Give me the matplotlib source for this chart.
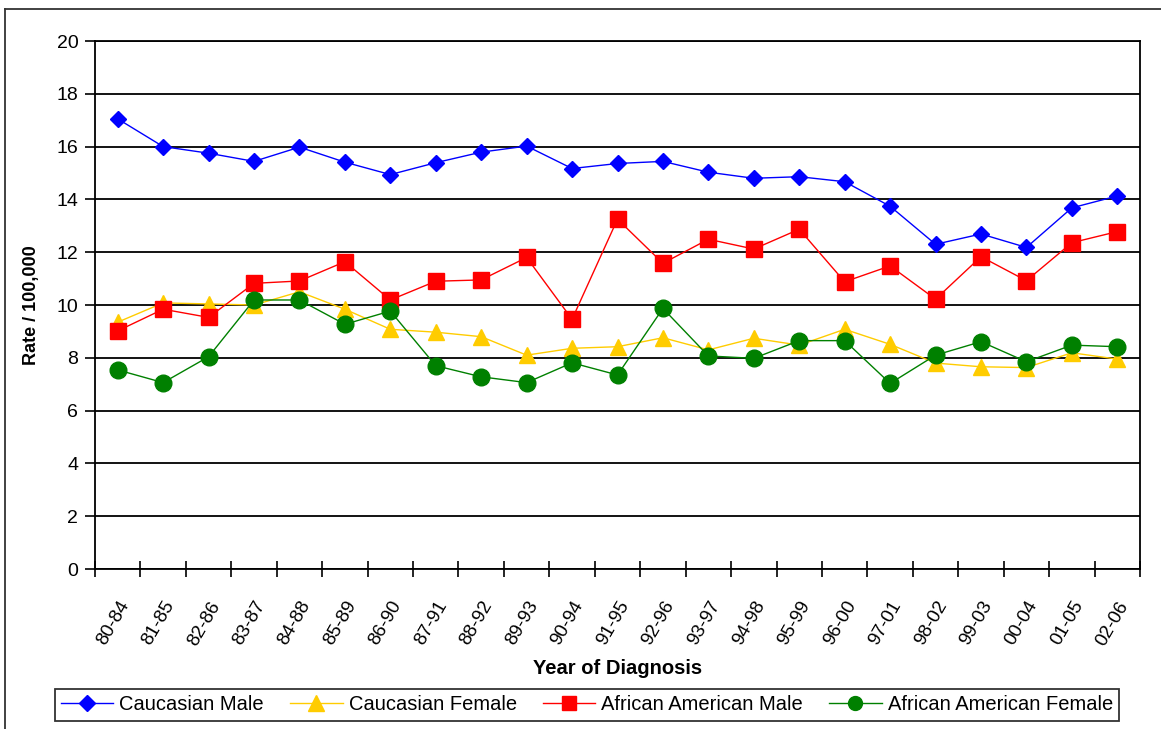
import matplotlib as mpl
mpl.use("Agg")
import matplotlib.pyplot as plt
from matplotlib.lines import Line2D

years = ["80-84", "81-85", "82-86", "83-87", "84-88", "85-89", "86-90", "87-91",
         "88-92", "89-93", "90-94", "91-95", "92-96", "93-97", "94-98", "95-99",
         "96-00", "97-01", "98-02", "99-03", "00-04", "01-05", "02-06"]

cauc_male = [17.05, 16.0, 15.75, 15.44, 15.98, 15.41, 14.94, 15.39, 15.79, 16.02,
             15.17, 15.36, 15.44, 15.03, 14.8, 14.86, 14.67, 13.74, 12.3, 12.69,
             12.18, 13.68, 14.13]
cauc_female = [9.35, 10.08, 10.04, 10.0, 10.5, 9.84, 9.08, 8.97, 8.8, 8.1,
               8.36, 8.42, 8.76, 8.3, 8.74, 8.48, 9.08, 8.51, 7.8, 7.66,
               7.63, 8.19, 7.95]
afam_male = [9.02, 9.84, 9.53, 10.82, 10.91, 11.64, 10.19, 10.9, 10.95, 11.8,
             9.46, 13.25, 11.58, 12.49, 12.12, 12.87, 10.88, 11.48, 10.22, 11.83,
             10.92, 12.36, 12.78]
afam_female = [7.54, 7.06, 8.04, 10.19, 10.19, 9.27, 9.77, 7.7, 7.28, 7.06,
               7.81, 7.35, 9.87, 8.07, 7.98, 8.65, 8.65, 7.03, 8.1, 8.61,
               7.85, 8.48, 8.42]

plt.rcParams["font.family"] = ["Liberation Sans", "DejaVu Sans"]

fig = plt.figure(figsize=(11.61, 7.29), dpi=100)
ax = fig.add_axes([95 / 1161, 1 - 569 / 729, 1045 / 1161, 528 / 729])

x = list(range(len(years)))
ax.plot(x, cauc_male, color="#0000ff", lw=1.0, marker="D", markersize=8,
        label="Caucasian Male")
ax.plot(x, cauc_female, color="#ffcc00", lw=1.0, marker="^", markersize=12,
        label="Caucasian Female")
ax.plot(x, afam_male, color="#ff0000", lw=1.0, marker="s", markersize=11.5,
        label="African American Male")
ax.plot(x, afam_female, color="#008000", lw=1.0, marker="o", markersize=12,
        label="African American Female")

ax.set_xlim(-0.5, len(years) - 0.5)
ax.set_ylim(0, 20)
ax.set_yticks(range(0, 21, 2))
ax.set_yticklabels([str(v) for v in range(0, 21, 2)], fontsize=14)
ax.yaxis.grid(True, color="black", lw=1.3)
ax.set_axisbelow(True)

# category ticks between groups, labels at centres
ax.set_xticks([i - 0.5 for i in range(len(years) + 1)], minor=False)
ax.set_xticklabels([""] * (len(years) + 1))
ax.set_xticks(x, minor=True)
ax.set_xticklabels(years, minor=True, rotation=60, ha="right", va="top",
                   rotation_mode="anchor", fontsize=13.5)
ax.tick_params(axis="x", which="minor", length=0, pad=21)
ax.tick_params(axis="x", which="major", direction="inout", length=12, width=1.2)
ax.tick_params(axis="y", direction="out", length=7, width=1.2, pad=5)

for s in ax.spines.values():
    s.set_color("black")
    s.set_linewidth(1.3)

ax.set_ylabel("Rate / 100,000", fontsize=13, fontweight="bold", labelpad=12)
ax.set_xlabel("Year of Diagnosis", fontsize=14.5, fontweight="bold", labelpad=7.5)

handles = [
    Line2D([0], [0], color="#0000ff", lw=1.0, marker="D", markersize=8),
    Line2D([0], [0], color="#ffcc00", lw=1.0, marker="^", markersize=11),
    Line2D([0], [0], color="#ff0000", lw=1.0, marker="s", markersize=10),
    Line2D([0], [0], color="#008000", lw=1.0, marker="o", markersize=10),
]
labels = ["Caucasian Male", "Caucasian Female", "African American Male",
          "African American Female"]
leg = fig.legend(handles, labels, loc="center", ncol=4,
                 bbox_to_anchor=(587 / 1161, 1 - 705 / 729), fontsize=14.5,
                 frameon=True, fancybox=False, edgecolor="black",
                 handlelength=2.6, handletextpad=0.3, columnspacing=1.3,
                 borderpad=0.3)
leg.get_frame().set_linewidth(1.3)

# outer chart border (left and top visible)
fig.add_artist(Line2D([5 / 1161, 5 / 1161], [0, 1 - 9 / 729], color="#333333",
                      lw=1.3, transform=fig.transFigure))
fig.add_artist(Line2D([5 / 1161, 1], [1 - 9 / 729, 1 - 9 / 729], color="#333333",
                      lw=1.3, transform=fig.transFigure))

fig.savefig("out.png", dpi=100)
